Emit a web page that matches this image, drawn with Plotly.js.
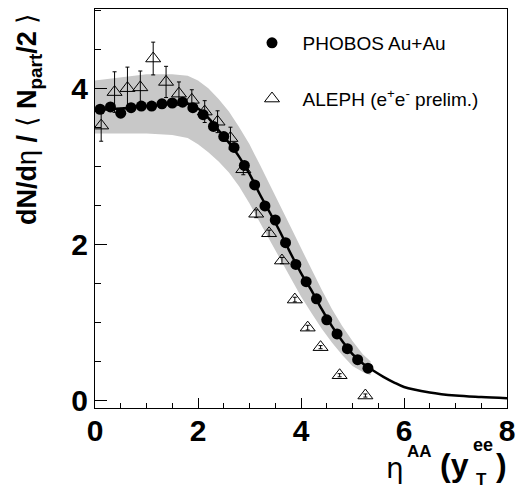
<!DOCTYPE html>
<html>
<head>
<meta charset="utf-8">
<script src="https://cdn.plot.ly/plotly-3.0.1.min.js"></script>
<style>html,body{margin:0;padding:0;background:#fff;}#chart{width:518px;height:489px;}</style>
</head>
<body>
<div id="chart"></div>
<script>
// PHOBOS Au+Au (filled circles)
var phobosX = [0.1,0.3,0.5,0.7,0.9,1.1,1.3,1.5,1.7,1.9,2.1,2.3,2.5,2.7,2.9,3.1,3.3,3.5,3.7,3.9,4.1,4.3,4.5,4.7,4.9,5.1,5.3];
var phobosY = [3.73,3.76,3.68,3.75,3.77,3.77,3.80,3.81,3.82,3.75,3.66,3.51,3.38,3.24,3.01,2.76,2.49,2.31,2.02,1.74,1.52,1.30,1.03,0.85,0.66,0.52,0.41];

// ALEPH e+e- prelim. (open triangles)
var alephX = [0.12,0.38,0.63,0.88,1.13,1.38,1.63,1.88,2.13,2.38,2.63,2.88,3.13,3.38,3.63,3.88,4.13,4.38,4.75,5.25];
var alephY = [3.52,3.95,4.00,4.01,4.38,4.08,3.93,3.85,3.70,3.57,3.36,2.96,2.39,2.14,1.79,1.29,0.93,0.68,0.32,0.06];
var alephErr = [0.20,0.26,0.27,0.21,0.21,0.20,0.15,0.13,0.14,0.14,0.14,0.07,0.05,0.04,0.04,0.03,0.03,0.02,0.02,0.02];

// solid curve
var lineX = [0,0.5,1.0,1.5,1.8,2.0,2.2,2.4,2.6,2.8,3.0,3.2,3.4,3.6,3.8,4.0,4.2,4.4,4.6,4.8,5.0,5.2,5.4,5.6,5.8,6.0,6.5,7.0,7.5,8.0];
var lineY = [3.72,3.74,3.77,3.80,3.80,3.74,3.62,3.46,3.30,3.12,2.90,2.64,2.40,2.15,1.88,1.63,1.41,1.17,0.95,0.76,0.59,0.47,0.38,0.30,0.23,0.17,0.10,0.06,0.04,0.025];

// grey systematic band
var bandX = [0,0.5,1.0,1.5,1.8,2.0,2.2,2.4,2.6,2.8,3.0,3.2,3.4,3.6,3.8,4.0,4.2,4.4,4.6,4.8,5.0,5.2,5.35];
var bandUpper = [4.10,4.14,4.18,4.18,4.16,4.10,4.00,3.86,3.70,3.50,3.28,3.02,2.76,2.50,2.22,1.95,1.68,1.42,1.17,0.95,0.76,0.59,0.50];
var bandLower = [3.42,3.42,3.42,3.40,3.36,3.28,3.18,3.06,2.92,2.74,2.52,2.28,2.04,1.80,1.56,1.33,1.12,0.92,0.74,0.58,0.44,0.36,0.32];

var traces = [
  {x: bandX, y: bandLower, mode: 'lines', line: {width: 0, color: '#c8c8c8'}, showlegend: false, hoverinfo: 'skip'},
  {x: bandX, y: bandUpper, mode: 'lines', line: {width: 0, color: '#c8c8c8'}, fill: 'tonexty', fillcolor: '#c8c8c8', showlegend: false, hoverinfo: 'skip'},
  {x: alephX, y: alephY, mode: 'markers', name: '\u00a0\u00a0ALEPH (e<sup>+</sup>e<sup>-</sup> prelim.)',
   legendgroup: 'b', legendrank: 2,
   marker: {symbol: 'triangle-up-open', size: 13, color: 'black', line: {width: 1, color: 'black'}},
   error_y: {type: 'data', array: alephErr, visible: true, color: 'black', thickness: 1, width: 2}},
  {x: lineX, y: lineY, mode: 'lines', line: {color: 'black', width: 2.5, shape: 'spline'}, showlegend: false, hoverinfo: 'skip'},
  {x: phobosX, y: phobosY, mode: 'markers', name: '\u00a0\u00a0PHOBOS Au+Au',
   legendgroup: 'a', legendrank: 1,
   marker: {symbol: 'circle', size: 11, color: 'black'}}
];

var L = 95, R = 507, T = 9, B = 408;
function px(x){ return (x - L) / (R - L); }
function py(y){ return (B - y) / (B - T); }

var bold = {family: 'Liberation Sans', size: 30, color: 'black', weight: 'bold'};

var layout = {
  width: 518, height: 489,
  margin: {l: L, r: 518 - R, t: T, b: 489 - B},
  paper_bgcolor: 'white', plot_bgcolor: 'white',
  showlegend: true,
  legend: {x: px(252), y: py(24), xanchor: 'left', yanchor: 'top', bgcolor: 'rgba(0,0,0,0)',
           font: {family: 'Liberation Sans', size: 19, color: 'black'},
           traceorder: 'grouped', tracegroupgap: 28, itemsizing: 'trace'},
  xaxis: {range: [0, 8], showgrid: false, zeroline: false, showline: true, linecolor: 'black', linewidth: 1, mirror: true,
          ticks: 'inside', ticklen: 10, tickwidth: 1, tickcolor: 'black', dtick: 2, tick0: 0,
          tickfont: bold, ticklabelstandoff: -4,
          minor: {dtick: 0.5, ticklen: 5, ticks: 'inside', tickcolor: 'black', showgrid: false}},
  yaxis: {range: [-0.1, 5.015], showgrid: false, zeroline: false, showline: true, linecolor: 'black', linewidth: 1, mirror: true,
          ticks: 'inside', ticklen: 12, tickwidth: 1, tickcolor: 'black', dtick: 2, tick0: 0,
          tickfont: bold,
          minor: {dtick: 0.5, ticklen: 6, ticks: 'inside', tickcolor: 'black', showgrid: false}},
  annotations: [
    {xref: 'paper', yref: 'paper', x: px(29), y: py(11), xanchor: 'center', yanchor: 'top', textangle: -90, showarrow: false,
     text: '<b>dN/d</b>η<b> / </b>⟨<b> N<sub>part</sub>/2 </b>⟩',
     font: {family: 'Liberation Sans', size: 27, color: 'black'}},
    {xref: 'paper', yref: 'paper', x: px(384), y: py(468), xanchor: 'left', yanchor: 'middle', showarrow: false,
     text: 'η', font: {family: 'DejaVu Sans', size: 28, color: 'black'}},
    {xref: 'paper', yref: 'paper', x: px(405), y: py(451), xanchor: 'left', yanchor: 'middle', showarrow: false,
     text: '<b>AA</b>', font: {family: 'Liberation Sans', size: 17, color: 'black'}},
    {xref: 'paper', yref: 'paper', x: px(438), y: py(465), xanchor: 'left', yanchor: 'middle', showarrow: false,
     text: '<b>(y</b>', font: {family: 'Liberation Sans', size: 32, color: 'black'}},
    {xref: 'paper', yref: 'paper', x: px(471), y: py(445), xanchor: 'left', yanchor: 'middle', showarrow: false,
     text: '<b>ee</b>', font: {family: 'Liberation Sans', size: 18, color: 'black'}},
    {xref: 'paper', yref: 'paper', x: px(474), y: py(479), xanchor: 'left', yanchor: 'middle', showarrow: false,
     text: '<b>T</b>', font: {family: 'Liberation Sans', size: 17, color: 'black'}},
    {xref: 'paper', yref: 'paper', x: px(494), y: py(465), xanchor: 'left', yanchor: 'middle', showarrow: false,
     text: '<b>)</b>', font: {family: 'Liberation Sans', size: 32, color: 'black'}}
  ]
};

Plotly.newPlot('chart', traces, layout, {displayModeBar: false, staticPlot: true});
</script>
</body>
</html>
